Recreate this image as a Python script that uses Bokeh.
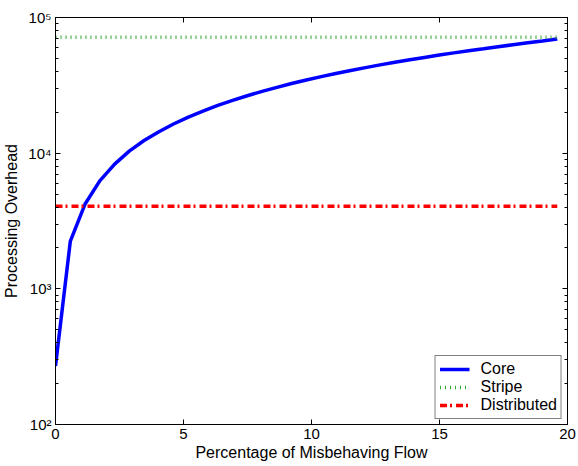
from bokeh.plotting import figure
from bokeh.models import (Range1d, LinearAxis, LogAxis, Legend, LegendItem,
                          FixedTicker, LogTicker, CustomJSTickFormatter)
from bokeh.embed import file_html
from bokeh.resources import INLINE

# ---- data ----
core_x = [0.00, 0.58, 1.15, 1.73, 2.31, 2.88, 3.46, 4.04, 4.61, 5.19, 5.76, 6.34,
          6.92, 7.49, 8.07, 8.65, 9.22, 9.80, 10.38, 10.95, 11.53, 12.11, 12.68,
          13.26, 13.84, 14.41, 14.99, 15.56, 16.14, 16.72, 17.29, 17.87, 18.45,
          19.02, 19.60]
core_y = [270, 2250, 4200, 6250, 8300, 10350, 12400, 14400, 16400, 18450, 20450,
          22500, 24500, 26500, 28550, 30550, 32600, 34600, 36650, 38650, 40700,
          42700, 44750, 46750, 48800, 50800, 52850, 54850, 56900, 58900, 60950,
          63000, 65050, 67100, 69300]
stripe_x = [0.0, 19.60]
stripe_y = [71500, 71500]
dist_x = [0.0, 19.60]
dist_y = [4060, 4060]
x_ticks = [0, 5, 10, 15, 20]
series_names = ["Core", "Stripe", "Distributed"]

FONT = "Liberation Sans"

p = figure(width=578, height=466, output_backend="svg", toolbar_location=None,
           y_axis_type="log", x_range=Range1d(0, 20), y_range=Range1d(100, 100000),
           min_border_left=52, min_border_right=11, min_border_top=17,
           min_border_bottom=42)
p.background_fill_color = "white"
p.border_fill_color = "white"
p.outline_line_color = "black"
p.outline_line_width = 1
p.xgrid.visible = False
p.ygrid.visible = False

sup = CustomJSTickFormatter(code="""
const s = {'0':'\u2070','1':'\u00b9','2':'\u00b2','3':'\u00b3','4':'\u2074','5':'\u2075',
           '6':'\u2076','7':'\u2077','8':'\u2078','9':'\u2079'};
const e = Math.round(Math.log10(tick));
return '10' + String(e).split('').map(c => s[c]).join('');
""")

xa = p.xaxis[0]
xa.ticker = FixedTicker(ticks=x_ticks)
xa.axis_label = "Percentage of Misbehaving Flow"
ya = p.yaxis[0]
ya.ticker = LogTicker(num_minor_ticks=10)
ya.formatter = sup
ya.axis_label = "Processing Overhead"

for ax in (xa, ya):
    ax.axis_line_color = "black"
    ax.major_tick_in = 5
    ax.major_tick_out = 0
    ax.minor_tick_in = 3
    ax.minor_tick_out = 0
    ax.major_label_text_font = FONT
    ax.major_label_text_font_size = "15px"
    ax.major_label_text_color = "black"
    ax.axis_label_text_font = FONT
    ax.axis_label_text_font_size = "16px"
    ax.axis_label_text_font_style = "normal"
    ax.axis_label_text_color = "black"
xa.minor_tick_line_color = None
xa.major_label_standoff = 4
xa.axis_label_standoff = 2
ya.major_label_standoff = 4
ya.axis_label_standoff = 5

blank = CustomJSTickFormatter(code="return '';")
top = LinearAxis(ticker=FixedTicker(ticks=x_ticks), formatter=blank,
                 major_tick_in=5, major_tick_out=0, minor_tick_line_color=None,
                 axis_line_color="black", major_label_text_font_size="1px",
                 major_label_standoff=0)
right = LogAxis(ticker=LogTicker(num_minor_ticks=10), formatter=blank,
                major_tick_in=5, major_tick_out=0, minor_tick_in=3, minor_tick_out=0,
                axis_line_color="black", major_label_text_font_size="1px",
                major_label_standoff=0)
p.add_layout(top, "above")
p.add_layout(right, "right")

r_core = p.line(core_x, core_y, line_color="#0000ff", line_width=3.5)
r_stripe = p.line(stripe_x, stripe_y, line_color="#2eaa2e", line_width=3.5,
                  line_dash="1 4")
r_dist = p.line(dist_x, dist_y, line_color="#ff0000", line_width=3.5,
                line_dash="7 3 2 4")

legend = Legend(items=[LegendItem(label=series_names[0], renderers=[r_core]),
                       LegendItem(label=series_names[1], renderers=[r_stripe]),
                       LegendItem(label=series_names[2], renderers=[r_dist])],
                location="bottom_right")
legend.margin = 5
legend.padding = 4
legend.spacing = -1
legend.glyph_width = 30
legend.glyph_height = 16
legend.label_height = 16
legend.label_standoff = 11
legend.label_text_font = FONT
legend.label_text_font_size = "16px"
legend.label_text_color = "black"
legend.border_line_color = "black"
legend.border_line_width = 1
legend.background_fill_alpha = 1
p.add_layout(legend, "center")

open("out.html", "w").write(file_html(p, INLINE))
